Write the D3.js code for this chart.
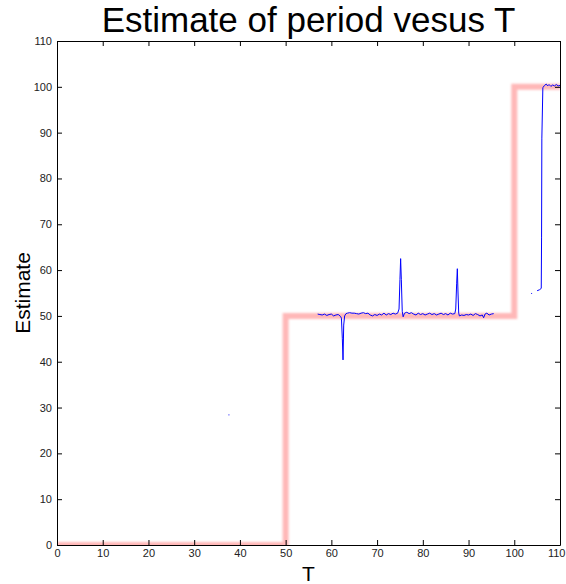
<!DOCTYPE html>
<html>
<head>
<meta charset="utf-8">
<script src="https://cdn.jsdelivr.net/npm/d3@7"></script>
<style>
  html, body { margin: 0; padding: 0; background: #fff; }
  svg { display: block; font-family: "Liberation Sans", Arial, sans-serif; }
</style>
</head>
<body>
<svg id="chart" width="566" height="584"></svg>
<script>
// True period (step reference) as T changes
const trueT = [0, 50, 50, 100, 100, 110];
const trueEst = [0, 0, 50, 50, 100, 100];

// Estimated period samples; null marks a gap in the estimate
const estT = [
  37.5, 37.7, null,
  57.0, 57.5, 58.0, 58.5, 59.0, 59.5, 60.0, 60.5, 61.0, 61.5, 62.0, 62.2, 62.4, 62.55, 62.7, 62.9,
  63.2, 63.5, 64.0, 64.5, 65.0, 65.5, 66.0, 66.5, 67.0, 67.5, 68.0, 68.5, 69.0, 69.5, 70.0, 70.5,
  71.0, 71.5, 72.0, 72.5, 73.0, 73.5, 74.0, 74.5, 74.8, 75.0, 75.15, 75.3, 75.5, 75.7, 76.0, 76.5,
  77.0, 77.5, 78.0, 78.5, 79.0, 79.5, 80.0, 80.5, 81.0, 81.5, 82.0, 82.5, 83.0, 83.5, 84.0, 84.5,
  85.0, 85.5, 86.0, 86.5, 87.0, 87.2, 87.4, 87.55, 87.7, 87.85, 88.0, 88.5, 89.0, 89.5, 90.0, 90.5,
  91.0, 91.5, 92.0, 92.5, 93.0, 93.3, 93.6, 94.0, 94.5, 95.0, 95.5, null,
  103.7, 103.9, null,
  105.0, 105.5, 105.9, 105.97, 106.03, 106.25, 106.6, 107.0, 107.3, 107.6, 108.0, 108.4, 108.8,
  109.2, 109.6, 110.0
];
const estVal = [
  28.4, 28.4, null,
  50.4, 50.3, 50.2, 50.4, 50.1, 50.3, 50.4, 50.0, 50.2, 50.3, 49.9, 49.5, 45.0, 40.4, 48.0, 50.0,
  50.5, 50.6, 50.7, 50.6, 50.6, 50.5, 50.4, 50.6, 50.7, 50.5, 50.6, 50.2, 50.0, 50.3, 50.1, 50.4,
  50.2, 50.6, 50.2, 50.5, 50.3, 50.6, 50.4, 50.6, 51.5, 58.0, 62.5, 58.0, 51.0, 49.8, 50.6, 50.8,
  50.5, 50.7, 50.4, 50.2, 50.6, 50.3, 50.5, 50.2, 50.4, 50.6, 50.3, 50.5, 50.2, 50.4, 50.6, 50.3,
  50.5, 50.2, 50.6, 50.4, 50.5, 51.5, 57.0, 60.3, 55.0, 50.6, 50.0, 50.2, 50.1, 50.3, 50.2, 50.4,
  50.1, 50.5, 50.3, 50.0, 50.2, 49.6, 50.4, 50.6, 50.2, 50.4, 50.5, null,
  54.9, 54.9, null,
  55.5, 55.7, 56.0, 67.2, 88.8, 99.8, 100.3, 100.6, 100.2, 100.5, 100.1, 100.4, 100.2,
  100.5, 100.2, 100.3
];

const xTicks = [0, 10, 20, 30, 40, 50, 60, 70, 80, 90, 100, 110];
const yTicks = [0, 10, 20, 30, 40, 50, 60, 70, 80, 90, 100, 110];

const svg = d3.select("#chart");
const margin = { left: 57, right: 6, top: 41, bottom: 39 };
const W = 566, H = 584;
const x = d3.scaleLinear().domain([0, 110]).range([margin.left, W - margin.right]);
const y = d3.scaleLinear().domain([0, 110]).range([H - margin.bottom, margin.top]);

const defs = svg.append("defs");
defs.append("clipPath").attr("id", "plotClip")
  .append("rect")
  .attr("x", x(0)).attr("y", y(110))
  .attr("width", x(110) - x(0)).attr("height", y(0) - y(110));
defs.append("filter").attr("id", "soft")
  .attr("x", "-10%").attr("y", "-10%").attr("width", "120%").attr("height", "120%")
  .append("feGaussianBlur").attr("stdDeviation", 1.3);

const plot = svg.append("g").attr("clip-path", "url(#plotClip)");

// Reference step: wide soft pink band
const stepLine = d3.line().x(d => x(d[0])).y(d => y(d[1]));
plot.append("path")
  .datum(trueT.map((t, i) => [t, trueEst[i]]))
  .attr("d", stepLine)
  .attr("fill", "none")
  .attr("stroke", "#ffb8b8")
  .attr("stroke-width", 6)
  .attr("filter", "url(#soft)");

// Estimate trace
const estLine = d3.line()
  .defined(d => d[0] !== null && d[1] !== null)
  .x(d => x(d[0])).y(d => y(d[1]));
plot.append("path")
  .datum(estT.map((t, i) => [t, estVal[i]]))
  .attr("d", estLine)
  .attr("fill", "none")
  .attr("stroke", "#0000ff")
  .attr("stroke-width", 1);

// Axes on all four sides, ticks pointing inward
const tickFmt = d3.format("d");
const axisBottom = d3.axisBottom(x).tickValues(xTicks).tickFormat(tickFmt).tickSizeInner(-5).tickSizeOuter(0).tickPadding(4);
const axisLeft = d3.axisLeft(y).tickValues(yTicks).tickFormat(tickFmt).tickSizeInner(-5).tickSizeOuter(0).tickPadding(5);
const axisTop = d3.axisTop(x).tickValues(xTicks).tickFormat("").tickSizeInner(-5).tickSizeOuter(0);
const axisRight = d3.axisRight(y).tickValues(yTicks).tickFormat("").tickSizeInner(-5).tickSizeOuter(0);

function styleAxis(g) {
  g.select(".domain").attr("stroke", "#000");
  g.selectAll(".tick line").attr("stroke", "#000");
  g.selectAll(".tick text").attr("fill", "#222").style("font-size", "11px")
    .style("font-family", "'Liberation Sans', Arial, sans-serif");
}

const gBottom = svg.append("g").attr("transform", `translate(0,${y(0)})`).call(axisBottom).call(styleAxis);
// keep the last tick label inside the page edge
gBottom.selectAll(".tick text").filter(d => d === 110).attr("text-anchor", "end").attr("dx", "5");
svg.append("g").attr("transform", `translate(${x(0)},0)`).call(axisLeft).call(styleAxis);
svg.append("g").attr("transform", `translate(0,${y(110)})`).call(axisTop).call(styleAxis);
svg.append("g").attr("transform", `translate(${x(110)},0)`).call(axisRight).call(styleAxis);

// Titles
svg.append("text")
  .attr("x", (x(0) + x(110)) / 2).attr("y", 32)
  .attr("text-anchor", "middle")
  .style("font-size", "35px")
  .text("Estimate of period vesus T");

svg.append("text")
  .attr("x", (x(0) + x(110)) / 2).attr("y", 581)
  .attr("text-anchor", "middle")
  .style("font-size", "21px")
  .text("T");

svg.append("text")
  .attr("transform", `translate(30,${(y(0) + y(110)) / 2}) rotate(-90)`)
  .attr("text-anchor", "middle")
  .style("font-size", "21px")
  .text("Estimate");
</script>
</body>
</html>
